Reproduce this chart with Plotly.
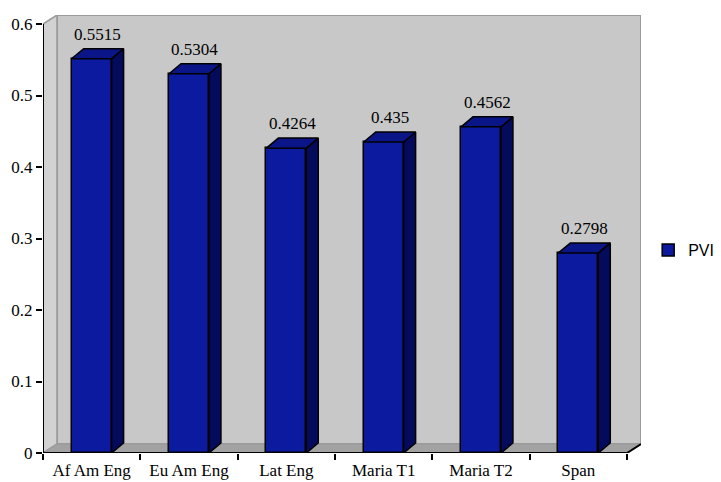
import plotly.graph_objects as go

categories = ["Af Am Eng", "Eu Am Eng", "Lat Eng", "Maria T1", "Maria T2", "Span"]
pvi = [0.5515, 0.5304, 0.4264, 0.435, 0.4562, 0.2798]
label_text = ["0.5515", "0.5304", "0.4264", "0.435", "0.4562", "0.2798"]
y_ticks = [0, 0.1, 0.2, 0.3, 0.4, 0.5, 0.6]
y_tick_text = ["0", "0.1", "0.2", "0.3", "0.4", "0.5", "0.6"]
series_name = "PVI"

FRONT = "#0C1AA0"
TOP = "#0A1688"
SIDE = "#050B5C"
WALL = "#C8C8C8"
LWALL = "#D2D2D2"
FLOOR = "#A2A2A2"
EDGE = "#9A9A9A"

n = len(categories)
xs = list(range(n))
bw = 0.41          # bar width in category units
bdx, bdy = 0.123, 0.014   # bar depth offsets
wdx, wdy = 0.1436, 0.01259  # wall depth offsets
ymax = y_ticks[-1]
x0, x1 = -0.5, n - 0.5

fig = go.Figure()

# side and top faces of the 3D bars
for x, v in zip(xs, pvi):
    r = x + bw / 2
    l = x - bw / 2
    fig.add_trace(go.Scatter(
        x=[r, r + bdx, r + bdx, r, r], y=[0, bdy, v + bdy, v, 0],
        fill="toself", fillcolor=SIDE, mode="lines",
        line=dict(color="black", width=1.5), showlegend=False, hoverinfo="skip"))
    fig.add_trace(go.Scatter(
        x=[l, r, r + bdx, l + bdx, l], y=[v, v, v + bdy, v + bdy, v],
        fill="toself", fillcolor=TOP, mode="lines",
        line=dict(color="black", width=1.5), showlegend=False, hoverinfo="skip"))

# front faces
fig.add_trace(go.Bar(
    x=xs, y=pvi, width=bw, name=series_name,
    marker=dict(color=FRONT, line=dict(color="black", width=1.5)),
    showlegend=True))

shapes = [
    # back wall
    dict(type="rect", xref="x", yref="y", x0=x0 + wdx, x1=x1 + wdx, y0=wdy, y1=ymax + wdy,
         fillcolor=WALL, line=dict(color=EDGE, width=2), layer="below"),
    # left wall
    dict(type="path", xref="x", yref="y",
         path=f"M {x0},0 L {x0},{ymax} L {x0 + wdx},{ymax + wdy} L {x0 + wdx},{wdy} Z",
         fillcolor=LWALL, line=dict(color=EDGE, width=1.5), layer="below"),
    # floor
    dict(type="path", xref="x", yref="y",
         path=f"M {x0},0 L {x1},0 L {x1 + wdx},{wdy} L {x0 + wdx},{wdy} Z",
         fillcolor=FLOOR, line=dict(color=EDGE, width=1), layer="below"),
    # axis lines
    dict(type="line", xref="x", yref="y", x0=x0, x1=x1, y0=0, y1=0,
         line=dict(color="black", width=2), layer="above"),
    dict(type="line", xref="x", yref="y", x0=x1, x1=x1 + wdx, y0=0, y1=wdy,
         line=dict(color="black", width=2), layer="above"),
    dict(type="line", xref="x", yref="y", x0=x0, x1=x0, y0=0, y1=ymax,
         line=dict(color="black", width=2), layer="above"),
]

annotations = []
for x, v, t in zip(xs, pvi, label_text):
    annotations.append(dict(
        x=x + bdx / 2, y=v + bdy, xref="x", yref="y", text=t, showarrow=False,
        yanchor="bottom", yshift=3,
        font=dict(family="Liberation Serif", size=17, color="black")))

fig.update_layout(
    width=721, height=482,
    margin=dict(l=43, r=80, t=15, b=29, pad=0, autoexpand=False),
    paper_bgcolor="white", plot_bgcolor="white",
    shapes=shapes, annotations=annotations,
    bargap=0,
    xaxis=dict(
        range=[x0, x1 + wdx], showgrid=False, zeroline=False, showline=False,
        automargin=False,
        tickmode="array", tickvals=xs, ticktext=categories,
        ticks="outside", ticklen=2, tickcolor="rgba(0,0,0,0)",
        tickfont=dict(family="Liberation Serif", size=17, color="black"),
        minor=dict(tickmode="array", tickvals=[i - 0.5 for i in range(n + 1)],
                   ticks="outside", ticklen=6, tickwidth=2, tickcolor="black", showgrid=False),
        fixedrange=True),
    yaxis=dict(
        range=[0, ymax + wdy], showgrid=False, zeroline=False, showline=False,
        automargin=False,
        tickmode="array", tickvals=y_ticks, ticktext=y_tick_text,
        ticks="outside", ticklen=6, tickwidth=2, tickcolor="black",
        tickfont=dict(family="Liberation Serif", size=17, color="black"),
        fixedrange=True),
    legend=dict(x=1.012, y=0.4635, xanchor="left", yanchor="middle",
                font=dict(family="Liberation Sans", size=16, color="black"),
                bgcolor="rgba(0,0,0,0)", borderwidth=0),
)

fig.write_html("out.html")
